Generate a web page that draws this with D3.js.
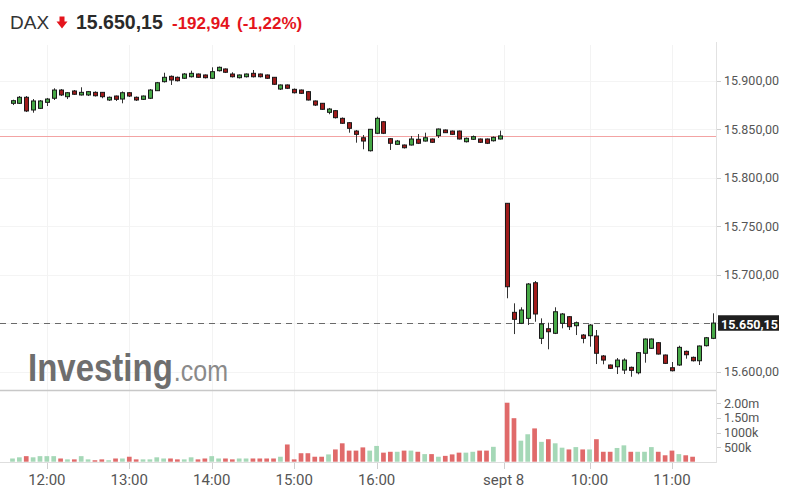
<!DOCTYPE html>
<html><head><meta charset="utf-8">
<script src="https://cdn.jsdelivr.net/npm/d3@7"></script>
<style>body{margin:0;background:#fff}svg{display:block}</style>
</head><body>
<svg id="c" width="790" height="504"></svg>
<script>
// ---- Data ----
const day1Open=[15876.7,15876.7,15882.9,15869.8,15871.5,15877.7,15881.9,15890.4,15883.5,15889.4,15885.3,15885.3,15888.0,15888.0,15880.1,15884.2,15881.1,15887.6,15882.9,15880.8,15881.9,15889.7,15899.0,15904.5,15903.5,15902.5,15904.1,15906.9,15905.9,15902.5,15910.3,15912.1,15906.9,15903.1,15904.1,15907.6,15906.9,15905.9,15903.5,15891.4,15895.6,15891.1,15890.4,15888.7,15879.1,15876.7,15867.4,15869.1,15861.2,15856.7,15848.1,15841.2,15827.8,15845.8,15857.7,15840.2,15834.4,15833.7,15833.7,15839.6,15837.8,15839.9,15843.3,15849.2,15848.1,15848.1,15837.1,15839.6,15839.9,15839.9,15838.1,15839.9];
const day1High=[15880.4,15884.2,15884.2,15881.1,15880.1,15882.2,15892.2,15891.4,15888.3,15890.4,15893.2,15889.4,15889.0,15888.3,15883.7,15884.7,15888.9,15888.3,15883.7,15884.7,15891.4,15898.7,15908.2,15905.4,15904.3,15907.9,15910.3,15907.4,15906.4,15913.8,15914.6,15912.6,15908.7,15906.4,15907.4,15911.0,15907.4,15906.4,15903.8,15896.1,15896.1,15892.0,15890.9,15889.4,15879.6,15877.0,15871.9,15869.8,15862.1,15857.4,15849.2,15844.0,15850.2,15862.9,15858.5,15840.9,15838.9,15834.2,15843.0,15845.0,15846.4,15840.4,15850.7,15849.7,15848.6,15848.6,15841.4,15843.5,15840.4,15840.4,15842.5,15848.5];
const day1Low=[15874.9,15876.0,15867.7,15867.0,15870.8,15873.9,15880.1,15884.2,15881.1,15885.3,15884.7,15884.2,15883.7,15881.9,15879.1,15879.1,15876.7,15883.2,15879.1,15880.1,15881.1,15889.4,15898.1,15895.6,15899.2,15901.8,15903.3,15902.8,15902.3,15901.8,15909.5,15907.9,15903.3,15902.3,15903.3,15903.3,15903.3,15901.8,15895.6,15890.4,15891.4,15886.8,15886.3,15879.6,15873.9,15869.8,15865.4,15861.0,15855.4,15846.4,15836.1,15829.3,15827.0,15845.0,15845.0,15828.6,15833.7,15830.1,15833.2,15834.7,15837.3,15835.8,15840.9,15846.1,15844.0,15839.4,15836.3,15838.9,15835.8,15834.7,15837.3,15839.4];
const day1Close=[15879.4,15882.9,15868.8,15879.1,15879.1,15881.1,15890.4,15885.3,15887.6,15886.0,15888.0,15888.7,15884.5,15883.5,15882.9,15880.8,15887.6,15884.2,15880.1,15884.2,15890.4,15897.9,15903.5,15900.7,15900.0,15906.9,15907.6,15903.5,15903.1,15909.3,15913.8,15908.7,15904.1,15905.9,15906.9,15904.1,15904.1,15902.5,15896.3,15895.6,15892.2,15887.6,15887.0,15880.1,15874.9,15870.5,15870.8,15861.9,15856.1,15850.9,15844.7,15837.8,15849.9,15861.2,15845.8,15835.5,15837.8,15830.9,15839.9,15835.5,15841.2,15836.5,15850.2,15846.4,15844.7,15839.9,15840.6,15842.3,15836.5,15835.5,15841.6,15843.09];
const day1Volume=[110000,150000,190000,150000,190000,190000,190000,110000,80000,80000,190000,80000,50000,80000,50000,110000,110000,170000,80000,80000,80000,150000,110000,110000,80000,80000,150000,80000,110000,190000,110000,110000,80000,110000,110000,110000,110000,110000,110000,170000,590000,80000,290000,290000,170000,170000,250000,420000,630000,380000,380000,490000,380000,540000,310000,340000,340000,380000,380000,340000,260000,260000,170000,200000,250000,310000,310000,340000,380000,380000,510000,null];

const day2Open=[15773.6,15661.2,15649.9,15655.0,15691.7,15634.4,15644.3,15639.6,15649.9,15656.7,15647.4,15637.8,15637.1,15636.8,15616.2,15606.9,15605.1,15601.7,15604.5,15598.9,15619.0,15624.1,15629.9,15617.2,15604.1,15606.9,15621.0,15614.8,15611.3,15626.8,15634.4];
const day2High=[15773.9,15670.5,15666.4,15691.4,15693.5,15655.0,15650.5,15666.4,15660.5,15657.4,15651.7,15638.8,15649.1,15643.0,15617.2,15607.4,15614.1,15613.8,15605.3,15620.3,15634.2,15634.2,15630.6,15617.7,15610.0,15626.8,15621.8,15615.6,15627.0,15635.8,15660.2];
const day2Low=[15675.7,15638.8,15649.1,15648.1,15651.5,15628.5,15623.1,15638.8,15644.7,15643.0,15637.8,15629.3,15625.8,15607.9,15607.6,15602.8,15597.6,15597.6,15594.8,15597.3,15609.3,15623.4,15617.7,15607.9,15600.3,15606.0,15613.4,15610.5,15606.9,15626.0,15633.6];
const day2Close=[15687.6,15654.0,15663.6,15690.4,15659.5,15649.2,15641.2,15661.8,15659.5,15646.4,15650.5,15634.4,15648.1,15619.0,15612.0,15603.5,15612.0,15612.0,15601.4,15619.6,15633.7,15633.7,15618.2,15608.6,15601.0,15625.1,15617.5,15611.3,15626.5,15635.0,15650.15];
const day2Volume=[2020000,1490000,720000,940000,1140000,680000,770000,630000,480000,420000,500000,420000,420000,770000,340000,340000,470000,560000,340000,340000,340000,500000,340000,220000,380000,260000,220000,170000,null,null,null];

const priceTicks=[15600,15650,15700,15750,15800,15850,15900];
const volumeTicks=[500000,1000000,1500000,2000000];
const volumeTickLabels=["500k","1000k","1.50m","2.00m"];
const timeTickLabels=["12:00","13:00","14:00","15:00","16:00","sept 8","10:00","11:00"];
const timeTickSlots=[5,17,29,41,53,71.5,84,96];
const symbol="DAX";
const lastPrice=15650.15;
const change=-192.94;
const changePct=-1.22;
const prevClose=15843.09;

// ---- Build ----
const deLocale=d3.formatLocale({decimal:",",thousands:".",grouping:[3],currency:["","€"],minus:"-"});
const fmtPrice=deLocale.format(",.2f");
const fmtChg=deLocale.format(".2f");

const candles=[];
day1Open.forEach((o,i)=>candles.push({o,h:day1High[i],l:day1Low[i],c:day1Close[i],v:day1Volume[i]}));
day2Open.forEach((o,i)=>candles.push({o,h:day2High[i],l:day2Low[i],c:day2Close[i],v:day2Volume[i]}));
candles.forEach((d,i)=>d.slot=i);

const svg=d3.select("#c");
const plotRight=716;
const x=d3.scaleLinear().domain([0,102]).range([12.5,713.2]);
const y=d3.scaleLinear().domain([15600,15900]).range([371.7,80.7]);
const yv=d3.scaleLinear().domain([0,2000000]).range([461.7,403.3]);

const upFill="#46a846", downFill="#a01b1b";
const volUp="#a5d8b7", volDown="#e06a6a";

// grid
const grid=svg.append("g");
grid.selectAll("line.h").data(priceTicks).join("line")
  .attr("x1",0).attr("x2",plotRight)
  .attr("y1",d=>Math.round(y(d))+0.5).attr("y2",d=>Math.round(y(d))+0.5)
  .attr("stroke","#f4f4f4");
grid.selectAll("line.v").data(timeTickSlots).join("line")
  .attr("x1",d=>Math.round(x(d))+0.5).attr("x2",d=>Math.round(x(d))+0.5)
  .attr("y1",45).attr("y2",462)
  .attr("stroke","#f3f3f3");

// watermark (single text element)
const wm=svg.append("text").attr("transform","translate(28,381) scale(1,1.2)")
  .attr("font-family","Arial, 'Liberation Sans', sans-serif");
wm.append("tspan").text("Investing").attr("font-weight","bold").attr("font-size",33).attr("fill","#6e6e6e");
wm.append("tspan").text(".com").attr("dx",1).attr("font-size",25).attr("fill","#8a8a8a");

// previous close line
svg.append("line").attr("x1",0).attr("x2",plotRight)
  .attr("y1",Math.round(y(prevClose))+0.5).attr("y2",Math.round(y(prevClose))+0.5)
  .attr("stroke","#f3a3a3").attr("stroke-width",1);

// last price dashed line
svg.append("line").attr("x1",0).attr("x2",plotRight)
  .attr("y1",Math.round(y(lastPrice))+0.5).attr("y2",Math.round(y(lastPrice))+0.5)
  .attr("stroke","#6a6a6a").attr("stroke-dasharray","6,5");

// panel separators & axes
svg.append("line").attr("x1",0).attr("x2",plotRight).attr("y1",390.5).attr("y2",390.5).attr("stroke","#c8c8c8").attr("stroke-width",1.5);
svg.append("line").attr("x1",0).attr("x2",plotRight).attr("y1",462.5).attr("y2",462.5).attr("stroke","#dedede");
svg.append("line").attr("x1",plotRight+0.5).attr("x2",plotRight+0.5).attr("y1",42).attr("y2",463).attr("stroke","#e2e2e2");

// candles
const cg=svg.append("g");
const cx=d=>Math.round(x(d.slot));
cg.selectAll("line.w").data(candles).join("line")
  .attr("x1",d=>cx(d)+0.5).attr("x2",d=>cx(d)+0.5)
  .attr("y1",d=>y(d.h)).attr("y2",d=>y(d.l))
  .attr("stroke","#333").attr("stroke-width",1);
cg.selectAll("rect").data(candles).join("rect")
  .attr("x",d=>cx(d)-1.5).attr("width",4)
  .attr("y",d=>y(Math.max(d.o,d.c)))
  .attr("height",d=>Math.max(1.5,Math.abs(y(d.o)-y(d.c))))
  .attr("fill",d=>d.c>=d.o?upFill:downFill)
  .attr("stroke","#1a1a1a").attr("stroke-width",1);

// volume bars
svg.append("g").selectAll("rect").data(candles.filter(d=>d.v!=null)).join("rect")
  .attr("x",d=>x(d.slot)-2.35).attr("width",4.7)
  .attr("y",d=>yv(d.v)).attr("height",d=>yv(0)-yv(d.v))
  .attr("fill",d=>d.c>=d.o?volUp:volDown);

// price axis
const ax=svg.append("g");
ax.selectAll("line").data(priceTicks).join("line")
  .attr("x1",plotRight+1).attr("x2",plotRight+5)
  .attr("y1",d=>Math.round(y(d))+0.5).attr("y2",d=>Math.round(y(d))+0.5).attr("stroke","#d0d0d0");
ax.selectAll("text").data(priceTicks.filter(d=>d!==15650)).join("text")
  .attr("x",724).attr("y",d=>y(d)+4.5).text(d=>fmtPrice(d))
  .attr("font-family","Roboto, sans-serif").attr("font-size",12.5).attr("fill","#555");

// last price label
svg.append("rect").attr("x",718).attr("y",y(lastPrice)-7.8).attr("width",61).attr("height",15.5).attr("fill","#1f1f1f");
svg.append("text").attr("x",721).attr("y",y(lastPrice)+6).text(fmtPrice(lastPrice))
  .attr("font-family","Roboto, sans-serif").attr("font-weight","bold").attr("font-size",12.5).attr("fill","#fff");

// volume axis
const vax=svg.append("g");
vax.selectAll("line").data(volumeTicks).join("line")
  .attr("x1",plotRight+1).attr("x2",plotRight+5)
  .attr("y1",d=>Math.round(yv(d))+0.5).attr("y2",d=>Math.round(yv(d))+0.5).attr("stroke","#d0d0d0");
vax.selectAll("text").data(volumeTicks).join("text")
  .attr("x",724).attr("y",d=>yv(d)+4.5).text((d,i)=>volumeTickLabels[i])
  .attr("font-family","Roboto, sans-serif").attr("font-size",12.5).attr("fill","#555");

// time axis
const tax=svg.append("g");
tax.selectAll("line").data(timeTickSlots).join("line")
  .attr("x1",d=>Math.round(x(d))+0.5).attr("x2",d=>Math.round(x(d))+0.5)
  .attr("y1",463).attr("y2",469).attr("stroke","#cfcfcf");
tax.selectAll("text").data(timeTickSlots).join("text")
  .attr("x",d=>x(d)).attr("y",485).attr("text-anchor","middle").text((d,i)=>timeTickLabels[i])
  .attr("font-family","Roboto, sans-serif").attr("font-size",15).attr("fill","#555");

// header
const hf="Arial, 'Liberation Sans', sans-serif";
svg.append("text").attr("x",10).attr("y",29).text(symbol)
  .attr("font-family",hf).attr("font-size",19).attr("fill","#333");
svg.append("path").attr("d","M59.5,16.5 H64.5 V21.5 H67.5 L62,28.5 L56.5,21.5 H59.5 Z").attr("fill","#e4141c");
svg.append("text").attr("x",76).attr("y",29).text(fmtPrice(lastPrice))
  .attr("font-family",hf).attr("font-weight","bold").attr("font-size",19.5).attr("fill","#2a2a2a");
svg.append("text").attr("x",172).attr("y",28.5).text(fmtChg(change))
  .attr("font-family",hf).attr("font-weight","bold").attr("font-size",17).attr("fill","#e4141c");
svg.append("text").attr("x",237).attr("y",28.5).text("("+fmtChg(changePct)+"%)")
  .attr("font-family",hf).attr("font-weight","bold").attr("font-size",17).attr("fill","#e4141c");
</script>
</body></html>
